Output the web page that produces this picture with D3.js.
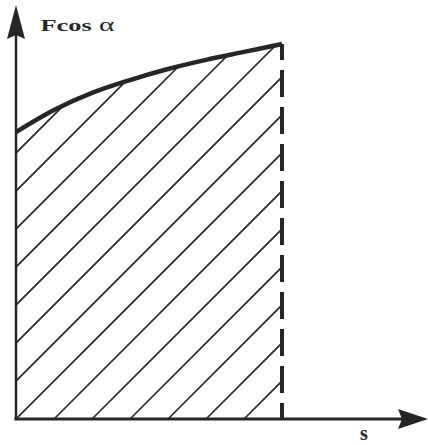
<!DOCTYPE html>
<html>
<head>
<meta charset="utf-8">
<script src="https://cdn.jsdelivr.net/npm/d3@7"></script>
<style>
  body { margin: 0; background: #fff; }
  svg { display: block; }
</style>
</head>
<body>
<script>
// F cos(alpha) at s = 0..7
const sValues = [0, 1, 2, 3, 4, 5, 6, 7]
const fValues = [7.55, 8.13, 8.58, 8.92, 9.21, 9.45, 9.66, 9.87]
const hatchOffsets = d3.range(-11, 8)   // hatch lines F = s - k
const yLabel = ['Fcos', ' α']
const xLabel = 's'

const W = 428, H = 445
const ink = '#262626'

let x = d3.scaleLinear().domain([0, 7]).range([16, 282])
let y = d3.scaleLinear().domain([0, 10]).range([419, 39])

const pts = sValues.map((s, i) => ({ s: s, f: fValues[i] }))

let svg = d3.select('body').append('svg')
    .attr('width', W)
    .attr('height', H)

// clip for the hatched area
const area = d3.area()
    .x(d => x(d.s))
    .y0(y(0))
    .y1(d => y(d.f))
    .curve(d3.curveMonotoneX)

svg.append('clipPath')
    .attr('id', 'under')
    .append('path')
    .datum(pts)
    .attr('d', area)

svg.append('g')
    .attr('clip-path', 'url(#under)')
    .selectAll('line')
    .data(hatchOffsets).enter()
    .append('line')
    .attr('x1', k => x(k))
    .attr('y1', y(0))
    .attr('x2', k => x(k + 12))
    .attr('y2', y(12))
    .attr('stroke', ink)
    .attr('stroke-width', 1.6)

// dashed vertical at the end
svg.append('line')
    .attr('x1', x(7))
    .attr('x2', x(7))
    .attr('y1', y(fValues[fValues.length - 1]))
    .attr('y2', y(0))
    .attr('stroke', ink)
    .attr('stroke-width', 4)
    .attr('stroke-dasharray', '27,10')
    .attr('stroke-dashoffset', 11)

// the curve
const line = d3.line()
    .x(d => x(d.s))
    .y(d => y(d.f))
    .curve(d3.curveMonotoneX)

svg.append('path')
    .datum(pts)
    .attr('d', line)
    .attr('fill', 'none')
    .attr('stroke', ink)
    .attr('stroke-width', 4.5)
    .attr('stroke-linejoin', 'round')

// axes
const x0 = x(0), y0 = y(0)
svg.append('line')
    .attr('x1', x0).attr('y1', y0 + 1)
    .attr('x2', x0).attr('y2', 30)
    .attr('stroke', ink)
    .attr('stroke-width', 2.5)
svg.append('line')
    .attr('x1', x0 - 1.5).attr('y1', y0)
    .attr('x2', 405).attr('y2', y0)
    .attr('stroke', ink)
    .attr('stroke-width', 3)

// arrow heads
svg.append('path')
    .attr('d', `M${x0},5 L${x0 + 9},39 L${x0},35 L${x0 - 9},39 Z`)
    .attr('fill', ink)
svg.append('path')
    .attr('d', `M428,${y0} L398,${y0 - 10} L402,${y0} L398,${y0 + 10} Z`)
    .attr('fill', ink)

// labels
let lab = svg.append('text')
    .attr('x', 40.5)
    .attr('y', 30.5)
    .attr('font-family', '"Liberation Serif", "DejaVu Serif", serif')
    .attr('font-size', 17)
    .attr('fill', ink)
    .attr('textLength', 74)
    .attr('lengthAdjust', 'spacingAndGlyphs')
lab.append('tspan').attr('font-weight', 'bold').text(yLabel[0])
lab.append('tspan').attr('font-size', 19).text(yLabel[1])

svg.append('text')
    .attr('x', 364)
    .attr('y', 440)
    .attr('text-anchor', 'middle')
    .attr('font-family', '"Liberation Serif", "DejaVu Serif", serif')
    .attr('font-size', 20)
    .attr('font-weight', 'bold')
    .attr('fill', ink)
    .text(xLabel)
</script>
</body>
</html>
